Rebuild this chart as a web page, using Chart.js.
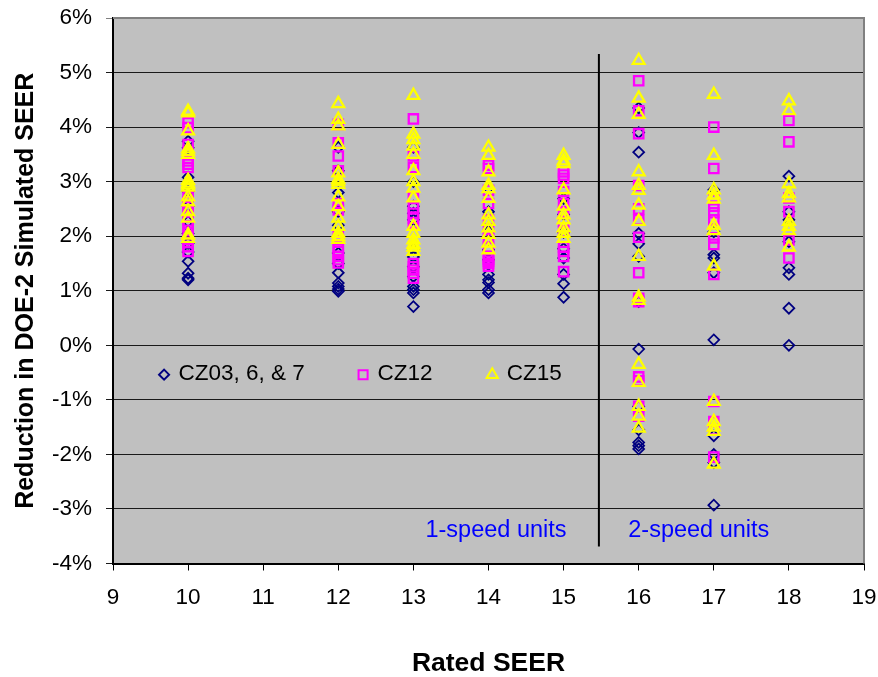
<!DOCTYPE html>
<html>
<head>
<meta charset="utf-8">
<script src="https://cdn.jsdelivr.net/npm/chart.js@4/dist/chart.umd.min.js"></script>
<style>
  html, body { margin: 0; padding: 0; background: #fff; }
  #wrap { width: 878px; height: 677px; }
</style>
</head>
<body>
<div id="wrap"><canvas id="chart"></canvas></div>
<script>
// ========== Values (percent) ==========
const seerLevels = [10, 12, 13, 14, 15, 16, 17, 18];

const cz367 = [
  [1.2, 1.23, 1.32, 1.54, 1.71, 1.87, 2.05, 2.27, 2.55, 2.82, 3.08, 3.62, 3.74],
  [0.99, 1.03, 1.08, 1.14, 1.33, 1.5, 1.69, 2.2, 2.45, 2.8, 3.2, 3.63],
  [0.71, 0.96, 1.02, 1.08, 1.26, 1.44, 1.62, 1.75, 2.3, 2.42, 2.55, 3.0, 3.63],
  [0.96, 1.02, 1.15, 1.2, 1.3, 1.57, 1.75, 2.1, 2.45, 2.87],
  [0.88, 1.13, 1.3, 1.6, 1.77, 2.07, 2.4, 2.69],
  [-1.9, -1.84, -1.78, -1.55, -1.12, -0.07, 0.8, 1.63, 1.86, 2.05, 3.54, 3.9, 4.35],
  [-2.93, -2.15, -2.0, -1.66, 0.1, 1.33, 1.6, 1.66, 2.08, 2.85],
  [0.0, 0.68, 1.3, 1.42, 1.9, 2.3, 2.45, 3.1]
];
const cz12 = [
  [1.72, 1.81, 1.88, 1.94, 2.06, 2.18, 2.28, 2.36, 2.45, 2.54, 2.63, 2.72, 3.26, 3.32, 3.38, 3.68, 3.99, 4.08],
  [1.51, 1.57, 1.63, 1.72, 1.8, 1.93, 2.02, 2.48, 2.6, 3.2, 3.47, 3.71, 4.05],
  [1.23, 1.32, 1.38, 1.44, 1.5, 2.24, 2.33, 2.42, 2.52, 2.72, 3.26, 3.47, 4.15],
  [1.45, 1.5, 1.54, 1.58, 1.63, 1.8, 1.96, 2.12, 2.3, 2.6, 2.84, 3.24, 3.3],
  [1.35, 1.63, 1.72, 1.8, 2.08, 2.27, 2.45, 2.6, 2.82, 3.06, 3.12, 3.18],
  [-1.3, -1.12, -0.65, -0.58, 0.8, 0.86, 1.33, 1.98, 2.3, 2.5, 2.93, 3.88, 4.3, 4.85],
  [-2.05, -1.55, -1.4, -1.03, 1.3, 1.85, 1.97, 2.3, 2.43, 2.55, 2.67, 3.24, 4.0],
  [1.6, 1.93, 2.45, 2.7, 3.73, 4.12]
];
const cz15 = [
  [1.96, 2.02, 2.33, 2.45, 2.63, 2.72, 2.9, 2.94, 2.97, 3.02, 3.5, 3.55, 3.6, 3.93, 4.26, 4.29],
  [1.94, 1.99, 2.05, 2.18, 2.33, 2.54, 2.72, 2.95, 3.0, 3.04, 3.16, 3.68, 4.02, 4.14, 4.43],
  [1.72, 1.8, 1.85, 1.93, 2.05, 2.18, 2.7, 2.88, 3.0, 3.2, 3.5, 3.65, 3.77, 3.87, 4.58],
  [1.75, 1.87, 2.03, 2.15, 2.27, 2.39, 2.69, 2.87, 2.93, 3.18, 3.48, 3.63],
  [1.96, 2.05, 2.15, 2.3, 2.39, 2.55, 2.85, 3.33, 3.38, 3.48],
  [-1.52, -1.3, -1.12, -0.68, -0.35, 0.82, 0.88, 1.63, 2.27, 2.57, 2.84, 2.93, 3.18, 4.23, 4.53, 5.22],
  [-2.18, -1.58, -1.5, -1.4, -1.03, 1.45, 2.1, 2.2, 2.68, 2.75, 2.85, 3.48, 4.6],
  [1.8, 2.1, 2.18, 2.27, 2.7, 2.78, 2.96, 4.3, 4.48]
];

// divider between the 1-speed and 2-speed units
const dividerX = [15.47, 15.47];
const dividerY = [5.34, -3.69];

const xTicks = [9, 10, 11, 12, 13, 14, 15, 16, 17, 18, 19];
const yTicks = [-4, -3, -2, -1, 0, 1, 2, 3, 4, 5, 6];

const seriesNames = ["CZ03, 6, & 7", "CZ12", "CZ15"];

function toPoints(groups) {
  const pts = [];
  groups.forEach((vals, i) => {
    vals.forEach(v => pts.push({ x: seerLevels[i], y: v }));
  });
  return pts;
}

const NAVY = "#000080", PINK = "#FF00FF", YELLOW = "#FFFF00", BLUE = "#0000FF";
const FONT = "'Liberation Sans', Arial, sans-serif";

// ========== Legend and the two notes, all inside the plot ==========
const insideText = {
  id: "insideText",
  afterDatasetsDraw(chart) {
    const { ctx, scales } = chart;
    const x = scales.x, y = scales.y;
    ctx.save();
    ctx.textBaseline = "middle";
    ctx.textAlign = "left";

    const legendY = y.getPixelForValue(-0.52);
    const entries = [
      { name: seriesNames[0], at: 9.68, style: "rectRot", r: 5, color: NAVY },
      { name: seriesNames[1], at: 12.33, style: "rect", r: 6.4, color: PINK },
      { name: seriesNames[2], at: 14.05, style: "triangle", r: 6.5, color: YELLOW }
    ];
    entries.forEach(e => {
      const px = x.getPixelForValue(e.at);
      ctx.strokeStyle = e.color;
      ctx.fillStyle = "transparent";
      ctx.lineWidth = 2;
      Chart.helpers.drawPoint(ctx, { pointStyle: e.style, radius: e.r, rotation: 0, borderWidth: 2 }, px, legendY + 1);
      ctx.fillStyle = "#000";
      ctx.font = "22.5px " + FONT;
      ctx.fillText(e.name, px + 14.5, legendY);
    });

    ctx.fillStyle = BLUE;
    ctx.font = "23.5px " + FONT;
    ctx.textAlign = "center";
    ctx.fillText("1-speed units", x.getPixelForValue(14.1), y.getPixelForValue(-3.4));
    ctx.fillText("2-speed units", x.getPixelForValue(16.8), y.getPixelForValue(-3.4));
    ctx.restore();
  }
};

new Chart(document.getElementById("chart"), {
  type: "scatter",
  data: {
    datasets: [
      { label: "divider", data: dividerX.map((v, i) => ({ x: v, y: dividerY[i] })), showLine: true,
        borderColor: "#000", borderWidth: 2, pointRadius: 0, order: 4 },
      { label: seriesNames[0], data: toPoints(cz367), pointStyle: "rectRot", pointRadius: 5.4,
        pointBorderColor: NAVY, pointBackgroundColor: "transparent", pointBorderWidth: 1.8, order: 3 },
      { label: seriesNames[1], data: toPoints(cz12), pointStyle: "rect", pointRadius: 6.6,
        pointBorderColor: PINK, pointBackgroundColor: "transparent", pointBorderWidth: 2.3, order: 2 },
      { label: seriesNames[2], data: toPoints(cz15), pointStyle: "triangle", pointRadius: 6.8,
        pointBorderColor: YELLOW, pointBackgroundColor: "transparent", pointBorderWidth: 2.3, order: 1 }
    ]
  },
  options: {
    responsive: true,
    maintainAspectRatio: false,
    animation: false,
    layout: { padding: 0 },
    plugins: {
      legend: { display: false },
      tooltip: { enabled: false }
    },
    scales: {
      x: {
        type: "linear",
        min: 9,
        max: 19,
        afterBuildTicks: axis => { axis.ticks = xTicks.map(v => ({ value: v })); },
        afterFit: axis => { axis.paddingRight = 14; axis.paddingLeft = 0; },
        grid: { display: true, drawOnChartArea: false, drawTicks: true, tickLength: 7, color: "#000" },
        border: { color: "#000", width: 2 },
        ticks: { color: "#000", font: { family: FONT, size: 22.5 }, padding: 14, maxRotation: 0 },
        title: { display: true, text: "Rated SEER", color: "#000", font: { family: FONT, size: 26.5, weight: "bold", lineHeight: 1 }, padding: { top: 25, bottom: 0 } }
      },
      y: {
        type: "linear",
        min: -4,
        max: 6,
        afterBuildTicks: axis => { axis.ticks = yTicks.map(v => ({ value: v })); },
        afterFit: axis => { axis.width = 113; axis.paddingTop = 18; axis.paddingBottom = 0; },
        grid: { color: ctx => (ctx.tick && ctx.tick.value === 6 ? "#808080" : "#1a1a1a"), lineWidth: 1, tickLength: 7 },
        border: { color: "#000", width: 2 },
        ticks: { color: "#000", font: { family: FONT, size: 22.5 }, padding: 14, callback: v => v + "%" },
        title: { display: true, text: "Reduction in DOE-2 Simulated SEER", color: "#000", font: { family: FONT, size: 25, weight: "bold" }, padding: { top: 11, bottom: 0 } }
      }
    }
  },
  plugins: [
    {
      id: "plotBackground",
      beforeDraw(chart) {
        const a = chart.chartArea;
        chart.ctx.save();
        chart.ctx.fillStyle = "#C0C0C0";
        chart.ctx.fillRect(a.left, a.top, a.width, a.height);
        chart.ctx.restore();
      },
      afterDraw(chart) {
        // grey top and right edges of the plot
        const a = chart.chartArea, c = chart.ctx;
        c.save();
        c.strokeStyle = "#808080";
        c.lineWidth = 2;
        c.beginPath();
        c.moveTo(a.left, a.top);
        c.lineTo(a.right, a.top);
        c.lineTo(a.right, a.bottom);
        c.stroke();
        c.restore();
      }
    },
    insideText
  ]
});
</script>
</body>
</html>
